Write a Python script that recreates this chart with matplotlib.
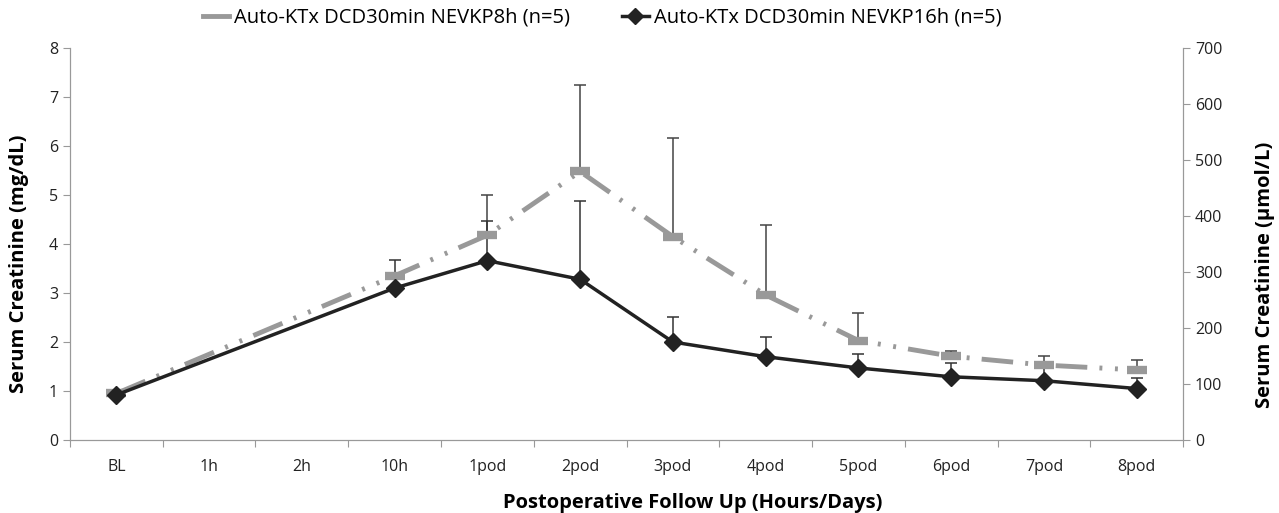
import numpy as np
from matplotlib import pyplot as plt
from matplotlib.lines import Line2D

plt.rcParams['font.family'] = ['Open Sans', 'DejaVu Sans']

categories = ['BL', '1h', '2h', '10h', '1pod', '2pod', '3pod', '4pod', '5pod', '6pod', '7pod', '8pod']

# NEVKP 8h: no 1h / 2h samples
idx_8h = [0, 3, 4, 5, 6, 7, 8, 9, 10, 11]
mean_8h = [0.95, 3.35, 4.18, 5.48, 4.15, 2.96, 2.03, 1.71, 1.53, 1.43]
upper_8h = [0.95, 3.35, 5.00, 7.24, 6.17, 4.39, 2.59, 1.82, 1.72, 1.63]

# NEVKP 16h
idx_16h = [0, 3, 4, 5, 6, 7, 8, 9, 10, 11]
mean_16h = [0.92, 3.10, 3.66, 3.28, 2.00, 1.70, 1.47, 1.29, 1.21, 1.05]
upper_16h = [1.02, 3.68, 4.47, 4.88, 2.52, 2.11, 1.75, 1.57, 1.47, 1.27]

label_8h = 'Auto-KTx DCD30min NEVKP8h (n=5)'
label_16h = 'Auto-KTx DCD30min NEVKP16h (n=5)'

fig = plt.figure(figsize=(12.79, 5.13), dpi=100)
ax1 = fig.add_axes([0.0547, 0.1423, 0.8703, 0.7641])
ax2 = ax1.twinx()

err_8h = [np.zeros(len(mean_8h)), np.array(upper_8h) - np.array(mean_8h)]
err_16h = [np.zeros(len(mean_16h)), np.array(upper_16h) - np.array(mean_16h)]

ax1.errorbar(idx_8h, mean_8h, yerr=err_8h, fmt='none', ecolor='#444444',
             elinewidth=1.1, capsize=4, capthick=1.1, zorder=2)
ax1.errorbar(idx_16h, mean_16h, yerr=err_16h, fmt='none', ecolor='#333333',
             elinewidth=1.1, capsize=4, capthick=1.1, zorder=2)

ax1.plot(idx_8h, mean_8h, color='#999999', lw=3.5, dashes=(6.5, 2.5, 0.6, 2.6, 0.6, 2.5),
         dash_capstyle='butt', marker='_', markersize=14, markeredgewidth=6, zorder=3)
ax1.plot(idx_16h, mean_16h, color='#222222', lw=2.5, marker='D', markersize=9, zorder=4)

ax1.set_xlim(-0.5, 11.5)
ax1.set_ylim(0, 8)
ax2.set_ylim(0, 700)
ax1.set_yticks(range(0, 9))
ax2.set_yticks(range(0, 701, 100))

ax1.set_xticks(np.arange(-0.5, 11.6, 1))
ax1.set_xticklabels([])
ax1.set_xticks(range(12), minor=True)
ax1.set_xticklabels(categories, minor=True)
ax1.tick_params(axis='x', which='minor', length=0, pad=14, labelsize=11.5, colors='#222222')
ax1.tick_params(axis='x', which='major', length=5, color='#999999', direction='out')

for ax in (ax1, ax2):
    for s in ax.spines.values():
        s.set_color('#999999')
    ax.spines['top'].set_visible(False)
    ax.tick_params(axis='y', length=5, color='#999999', labelsize=11.5, labelcolor='#222222')

ax1.set_ylabel('Serum Creatinine (mg/dL)', fontsize=14.5, fontweight='bold', labelpad=10)
ax1.yaxis.set_label_coords(-0.037, 0.45)
ax2.set_ylabel('Serum Creatinine (µmol/L)', fontsize=14.5, fontweight='bold', labelpad=10)
ax2.yaxis.set_label_coords(1.065, 0.42)
ax1.set_xlabel('Postoperative Follow Up (Hours/Days)', fontsize=14.5, fontweight='bold', labelpad=12)
ax1.xaxis.set_label_coords(0.559, -0.135)

handles = [Line2D([], [], color='#999999', lw=3.5),
           Line2D([], [], color='#222222', lw=2.5, marker='D', markersize=8)]
ax1.legend(handles, [label_8h, label_16h], loc='lower center', bbox_to_anchor=(0.478, 1.005),
           ncol=2, frameon=False, fontsize=14.5, handlelength=1.3, handletextpad=0.25,
           columnspacing=2.6)

fig.savefig('out.png', dpi=100)
